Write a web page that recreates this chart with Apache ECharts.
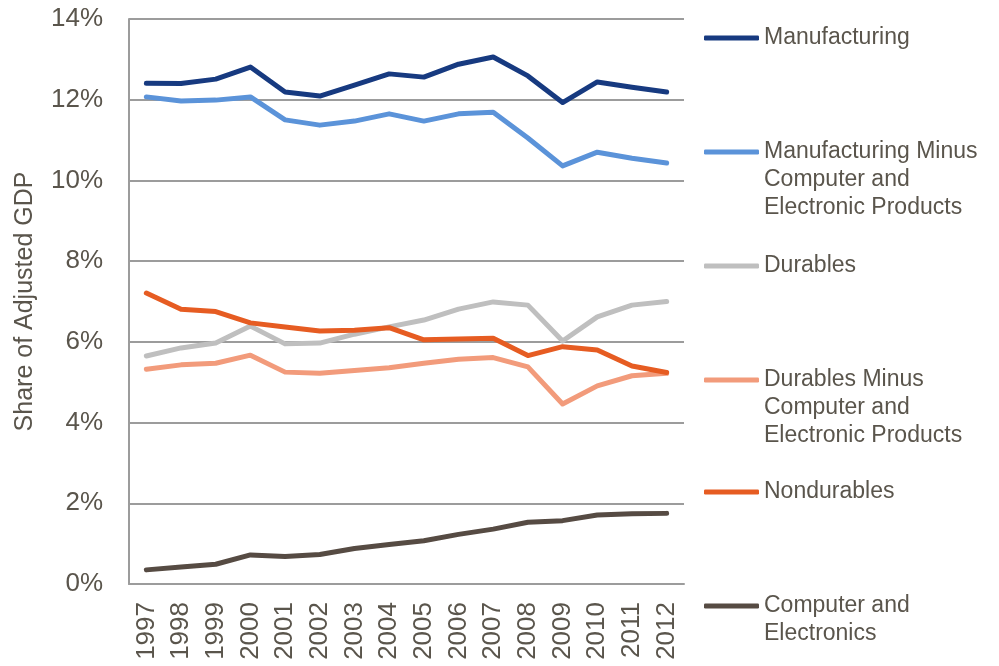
<!DOCTYPE html>
<html>
<head>
<meta charset="utf-8">
<script src="https://cdn.jsdelivr.net/npm/echarts@6/dist/echarts.min.js"></script>
<style>
  html, body { margin: 0; padding: 0; background: #fff; }
  #main { width: 999px; height: 666px; }
</style>
</head>
<body>
<div id="main"></div>
<script>
// years on the x axis
var years = ['1997','1998','1999','2000','2001','2002','2003','2004','2005','2006','2007','2008','2009','2010','2011','2012'];

// share of adjusted GDP, percent
var manufacturing      = [12.41, 12.40, 12.51, 12.81, 12.19, 12.09, 12.36, 12.64, 12.56, 12.88, 13.06, 12.59, 11.93, 12.44, 12.31, 12.19];
var manufMinusComputer = [12.07, 11.97, 11.99, 12.07, 11.50, 11.37, 11.47, 11.65, 11.47, 11.65, 11.69, 11.05, 10.36, 10.70, 10.55, 10.43];
var durables           = [5.65, 5.85, 5.97, 6.39, 5.95, 5.97, 6.19, 6.37, 6.54, 6.81, 6.99, 6.91, 6.02, 6.62, 6.91, 7.00];
var durablesMinusComp  = [5.32, 5.43, 5.47, 5.67, 5.25, 5.22, 5.29, 5.36, 5.47, 5.57, 5.61, 5.38, 4.46, 4.91, 5.16, 5.22];
var nondurables        = [7.21, 6.81, 6.75, 6.47, 6.37, 6.27, 6.29, 6.35, 6.05, 6.07, 6.09, 5.66, 5.88, 5.80, 5.40, 5.24];
var computerElec       = [0.35, 0.42, 0.49, 0.72, 0.68, 0.73, 0.88, 0.98, 1.07, 1.23, 1.36, 1.53, 1.57, 1.71, 1.74, 1.75];

var names = [
  'Manufacturing',
  'Manufacturing Minus\nComputer and\nElectronic Products',
  'Durables',
  'Durables Minus\nComputer and\nElectronic Products',
  'Nondurables',
  'Computer and\nElectronics'
];
var colors = ['#173a80', '#5b93d9', '#bfbfbf', '#f29b7b', '#e65c22', '#564b43'];
var values = [manufacturing, manufMinusComputer, durables, durablesMinusComp, nondurables, computerElec];

var textColor = '#5a554c';
var gridColor = '#9c9c9c';
var font = 'Liberation Sans';

// one legend per item so each can sit at its own height;
// leading blank lines keep the icon level with the first text line
var legendTops = [24, 82, 252, 310, 478, 564];
var legends = names.map(function (n, i) {
  return {
    data: [n],
    left: 704,
    top: legendTops[i],
    padding: 0,
    itemWidth: 55,
    itemHeight: 5,
    itemGap: 0,
    icon: 'roundRect',
    formatter: function (name) {
      var extra = name.split('\n').length - 1;
      return new Array(extra + 1).join('\n') + name;
    },
    textStyle: {
      color: textColor,
      fontSize: 23,
      fontFamily: font,
      lineHeight: 28
    },
    selectedMode: false
  };
});

var myChart = echarts.init(document.getElementById('main'));

myChart.setOption({
  animation: false,
  legend: legends,
  grid: {
    left: 129,
    right: 315,
    top: 19,
    bottom: 82,
    containLabel: false,
    outerBoundsMode: 'none'
  },
  xAxis: {
    type: 'category',
    data: years,
    boundaryGap: true,
    axisLine: { lineStyle: { color: gridColor, width: 2 } },
    axisTick: { show: false },
    axisLabel: {
      rotate: 90,
      margin: 18,
      color: textColor,
      fontSize: 26,
      fontFamily: font
    }
  },
  yAxis: {
    type: 'value',
    min: 0,
    max: 14,
    interval: 2,
    name: 'Share of Adjusted GDP',
    nameLocation: 'middle',
    nameRotate: 90,
    nameGap: 91,
    nameTextStyle: { color: textColor, fontSize: 25, fontFamily: font },
    axisLine: { show: true, lineStyle: { color: gridColor, width: 2 } },
    axisTick: { show: false },
    axisLabel: {
      formatter: '{value}%',
      margin: 26,
      color: textColor,
      fontSize: 26,
      fontFamily: font
    },
    splitLine: { lineStyle: { color: gridColor, width: 2 } }
  },
  series: names.map(function (n, i) {
    return {
      name: n,
      type: 'line',
      data: values[i],
      symbol: 'none',
      color: colors[i],
      lineStyle: { width: 5, color: colors[i], cap: 'round', join: 'round' }
    };
  })
});
</script>
</body>
</html>
